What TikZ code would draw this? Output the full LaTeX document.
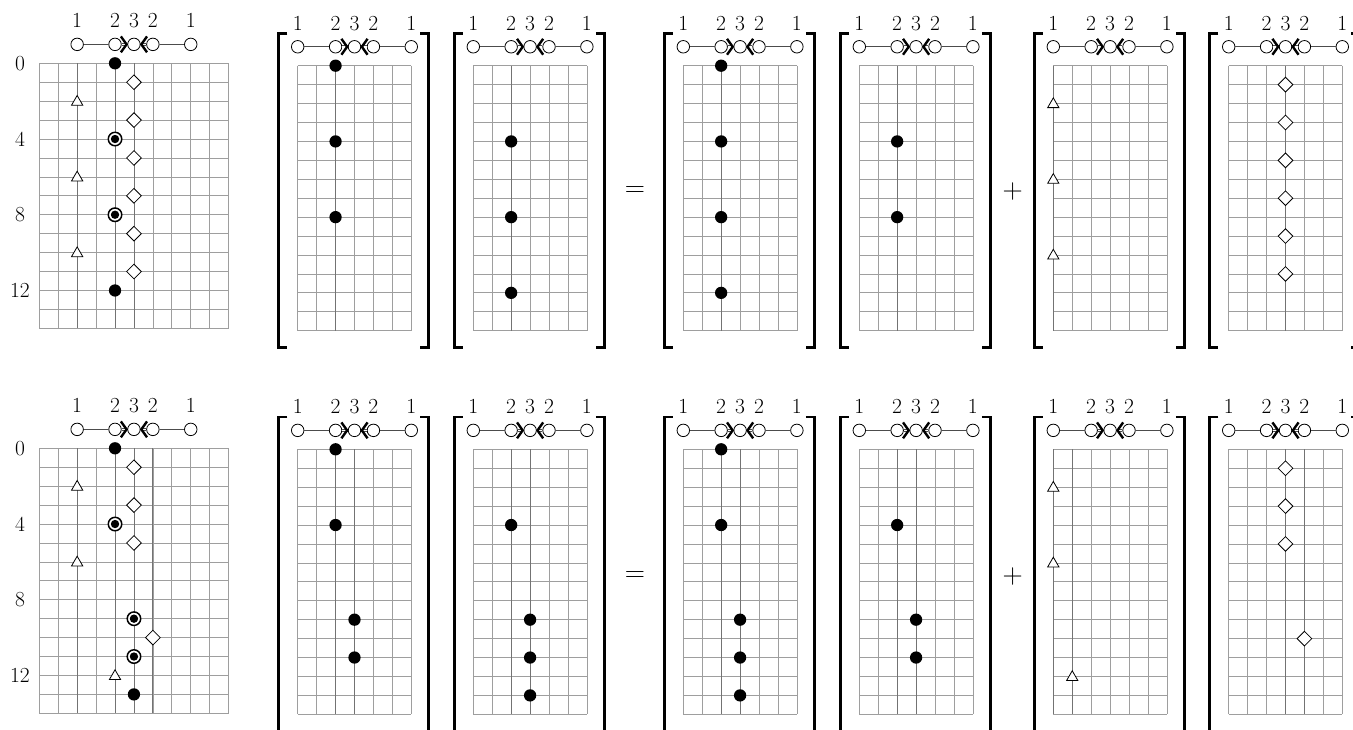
\documentclass[tikz,border=0pt]{standalone}
\usepackage{fontspec}
\usetikzlibrary{shapes.geometric}
\tikzset{
  gridline/.style={draw=black!38, line width=0.75pt},
  strand/.style={draw=black!55, line width=0.85pt},
  dnode/.style={circle, draw=black, fill=white, line width=0.8pt, minimum size=12.5pt, inner sep=0pt},
  dedge/.style={draw=black!70, line width=0.8pt},
  ddouble/.style={draw=black!70, line width=0.6pt, double=white, double distance=1.6pt},
  chev/.style={draw=black, line width=2.4pt, miter limit=10},
  dlabel/.style={font=\fontsize{21.5}{21.5}\selectfont, inner sep=0pt},
  dotm/.style={circle, fill=black, inner sep=0pt, minimum size=12.3pt},
  cdotm/.style={circle, draw=black, fill=white, line width=1.5pt, inner sep=0pt, minimum size=13.5pt,
    path picture={\fill[black] (path picture bounding box.center) circle (4.2pt);}},
  diam/.style={diamond, draw=black, fill=white, line width=0.8pt, inner sep=0pt, minimum width=15pt, minimum height=15pt},
  tri/.style={regular polygon, regular polygon sides=3, draw=black, fill=white, line width=0.8pt, inner sep=0pt, minimum size=13pt, yshift=-0.8pt},
  brk/.style={draw=black, line width=2.8pt},
  opsym/.style={font=\fontsize{28}{28}\selectfont, inner sep=0pt},
}
% grid of width #1 (cells), 14 rows
\newcommand{\MyGrid}[1]{%
  \foreach \i in {0,...,#1} \draw[gridline] (\i,0) -- (\i,14);
  \foreach \j in {0,...,14} \draw[gridline] (0,\j) -- (#1,\j);
}
% Dynkin diagram, node "1" at x=0, one cell above grid top
\newcommand{\MyDynkin}[1]{%
  \node[dnode] (#1a) at (0,-1) {};
  \node[dnode] (#1b) at (2,-1) {};
  \node[dnode] (#1c) at (3,-1) {};
  \node[dnode] (#1d) at (4,-1) {};
  \node[dnode] (#1e) at (6,-1) {};
  \draw[dedge] (#1a) -- (#1b);
  \draw[dedge] (#1d) -- (#1e);
  \draw[ddouble] (#1b) -- (#1c);
  \draw[ddouble] (#1c) -- (#1d);
  \draw[chev] (2.31,-1.42) -- (2.61,-1) -- (2.31,-0.58);
  \draw[chev] (3.69,-1.42) -- (3.39,-1) -- (3.69,-0.58);
  \node[dlabel] (#1la) at (0,-2.25) {1};
  \node[dlabel] (#1lb) at (2,-2.25) {2};
  \node[dlabel] (#1lc) at (3,-2.25) {3};
  \node[dlabel] (#1ld) at (4,-2.25) {2};
  \node[dlabel] (#1le) at (6,-2.25) {1};
}
% brackets around a 6-wide matrix grid
\newcommand{\MyBrackets}{%
  \draw[brk] (-0.55,-1.71) -- (-1.01,-1.71) -- (-1.01,14.9) -- (-0.55,14.9);
  \draw[brk] (6.47,-1.71) -- (6.91,-1.71) -- (6.91,14.9) -- (6.47,14.9);
}
\begin{document}
\begin{tikzpicture}[x=1pt,y=-1pt]
\useasboundingbox (0,0) rectangle (1353,729);
\clip (0,0) rectangle (1353,729);

% ================= TOP ROW =================
\begin{scope}[shift={(39.3,63.3)}, x=18.93pt, y=-18.93pt]
  \MyGrid{10}
  \foreach \c in {2,4,5} \draw[strand] (\c,0) -- (\c,14);
  \begin{scope}[xshift=37.86pt]\MyDynkin{TA}\end{scope}
  \foreach \r in {0,4,8,12} \node[dlabel] (TArow\r) at (-1.02,\r) {\r};
  \foreach \r in {1,3,5,7,9,11} \node[diam] (TAd\r) at (5,\r) {};
  \foreach \r in {2,6,10} \node[tri] (TAt\r) at (2,\r) {};
  \node[dotm] (TAp0) at (4,0) {};
  \node[dotm] (TAp12) at (4,12) {};
  \node[cdotm] (TAq4) at (4,4) {};
  \node[cdotm] (TAq8) at (4,8) {};
\end{scope}

\begin{scope}[shift={(297.7,65.7)}, x=18.93pt, y=-18.93pt]
  \MyGrid{6}
  \draw[strand] (2,0) -- (2,14);
  \MyDynkin{T1}
  \MyBrackets
  \foreach \r in {0,4,8} \node[dotm] (T1p\r) at (2,\r) {};
\end{scope}

\begin{scope}[shift={(473.3,65.7)}, x=18.93pt, y=-18.93pt]
  \MyGrid{6}
  \draw[strand] (2,0) -- (2,14);
  \MyDynkin{T2}
  \MyBrackets
  \foreach \r in {4,8,12} \node[dotm] (T2p\r) at (2,\r) {};
\end{scope}

\node[opsym] (Teq) at (635,192) {=};

\begin{scope}[shift={(683.3,65.7)}, x=18.93pt, y=-18.93pt]
  \MyGrid{6}
  \draw[strand] (2,0) -- (2,14);
  \MyDynkin{T3}
  \MyBrackets
  \foreach \r in {0,4,8,12} \node[dotm] (T3p\r) at (2,\r) {};
\end{scope}

\begin{scope}[shift={(859.3,65.7)}, x=18.93pt, y=-18.93pt]
  \MyGrid{6}
  \draw[strand] (2,0) -- (2,14);
  \MyDynkin{T4}
  \MyBrackets
  \foreach \r in {4,8} \node[dotm] (T4p\r) at (2,\r) {};
\end{scope}

\node[opsym] (Tplus) at (1012.7,192) {+};

\begin{scope}[shift={(1053.3,65.7)}, x=18.93pt, y=-18.93pt]
  \MyGrid{6}
  \draw[strand] (0,0) -- (0,14);
  \MyDynkin{T5}
  \MyBrackets
  \foreach \r in {2,6,10} \node[tri] (T5t\r) at (0,\r) {};
\end{scope}

\begin{scope}[shift={(1228.7,65.7)}, x=18.93pt, y=-18.93pt]
  \MyGrid{6}
  \draw[strand] (3,0) -- (3,14);
  \MyDynkin{T6}
  \MyBrackets
  \foreach \r in {1,3,5,7,9,11} \node[diam] (T6d\r) at (3,\r) {};
\end{scope}

% ================= BOTTOM ROW =================
\begin{scope}[shift={(39.3,448.3)}, x=18.93pt, y=-18.93pt]
  \MyGrid{10}
  \foreach \c in {2,4,5,6} \draw[strand] (\c,0) -- (\c,14);
  \begin{scope}[xshift=37.86pt]\MyDynkin{BA}\end{scope}
  \foreach \r in {0,4,8,12} \node[dlabel] (BArow\r) at (-1.02,\r) {\r};
  \foreach \r in {1,3,5} \node[diam] (BAd\r) at (5,\r) {};
  \node[diam] (BAd10) at (6,10) {};
  \foreach \r in {2,6} \node[tri] (BAt\r) at (2,\r) {};
  \node[tri] (BAt12) at (4,12) {};
  \node[dotm] (BAp0) at (4,0) {};
  \node[dotm] (BAp13) at (5,13) {};
  \node[cdotm] (BAq4) at (4,4) {};
  \node[cdotm] (BAq9) at (5,9) {};
  \node[cdotm] (BAq11) at (5,11) {};
\end{scope}

\begin{scope}[shift={(297.7,449.3)}, x=18.93pt, y=-18.93pt]
  \MyGrid{6}
  \foreach \c in {2,3} \draw[strand] (\c,0) -- (\c,14);
  \MyDynkin{B1}
  \MyBrackets
  \foreach \r in {0,4} \node[dotm] (B1p\r) at (2,\r) {};
  \foreach \r in {9,11} \node[dotm] (B1s\r) at (3,\r) {};
\end{scope}

\begin{scope}[shift={(473.3,449.3)}, x=18.93pt, y=-18.93pt]
  \MyGrid{6}
  \foreach \c in {2,3} \draw[strand] (\c,0) -- (\c,14);
  \MyDynkin{B2}
  \MyBrackets
  \node[dotm] (B2p4) at (2,4) {};
  \foreach \r in {9,11,13} \node[dotm] (B2s\r) at (3,\r) {};
\end{scope}

\node[opsym] (Beq) at (635,577) {=};

\begin{scope}[shift={(683.3,449.3)}, x=18.93pt, y=-18.93pt]
  \MyGrid{6}
  \foreach \c in {2,3} \draw[strand] (\c,0) -- (\c,14);
  \MyDynkin{B3}
  \MyBrackets
  \foreach \r in {0,4} \node[dotm] (B3p\r) at (2,\r) {};
  \foreach \r in {9,11,13} \node[dotm] (B3s\r) at (3,\r) {};
\end{scope}

\begin{scope}[shift={(859.3,449.3)}, x=18.93pt, y=-18.93pt]
  \MyGrid{6}
  \foreach \c in {2,3} \draw[strand] (\c,0) -- (\c,14);
  \MyDynkin{B4}
  \MyBrackets
  \node[dotm] (B4p4) at (2,4) {};
  \foreach \r in {9,11} \node[dotm] (B4s\r) at (3,\r) {};
\end{scope}

\node[opsym] (Bplus) at (1012.7,577) {+};

\begin{scope}[shift={(1053.3,449.3)}, x=18.93pt, y=-18.93pt]
  \MyGrid{6}
  \foreach \c in {0,1} \draw[strand] (\c,0) -- (\c,14);
  \MyDynkin{B5}
  \MyBrackets
  \foreach \r in {2,6} \node[tri] (B5t\r) at (0,\r) {};
  \node[tri] (B5t12) at (1,12) {};
\end{scope}

\begin{scope}[shift={(1228.7,449.3)}, x=18.93pt, y=-18.93pt]
  \MyGrid{6}
  \foreach \c in {3,4} \draw[strand] (\c,0) -- (\c,14);
  \MyDynkin{B6}
  \MyBrackets
  \foreach \r in {1,3,5} \node[diam] (B6d\r) at (3,\r) {};
  \node[diam] (B6d10) at (4,10) {};
\end{scope}

\end{tikzpicture}
\end{document}
